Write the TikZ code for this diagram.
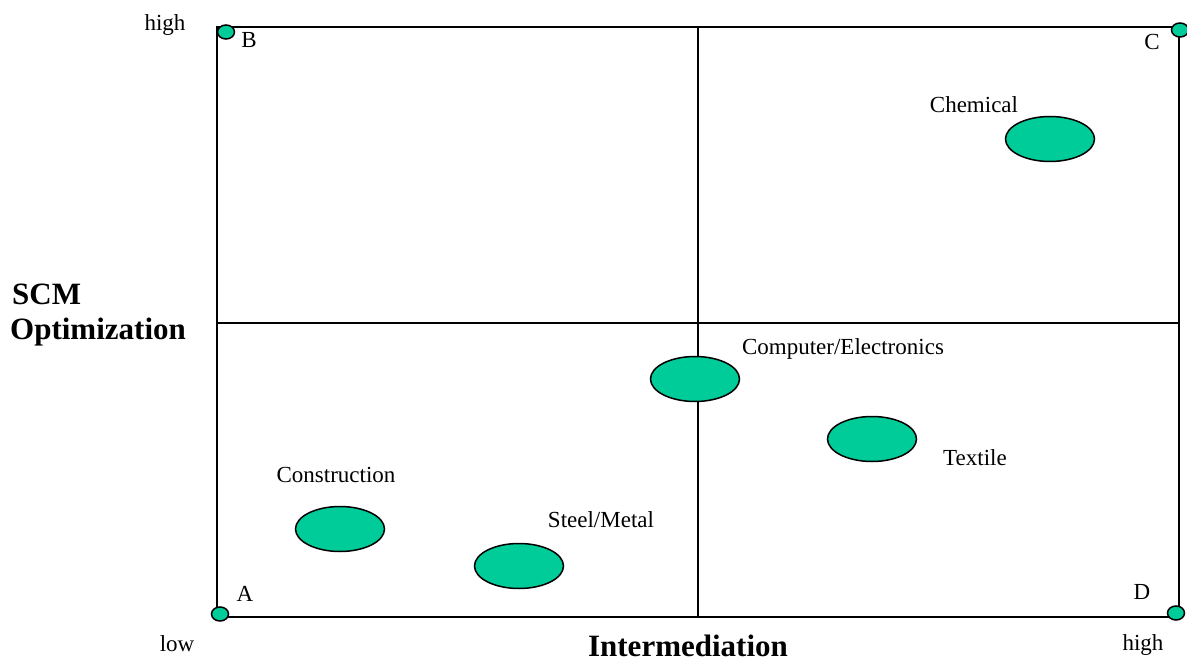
\documentclass[tikz,border=0pt]{standalone}
\usepackage{fontspec}
\setmainfont{Liberation Serif}
\usetikzlibrary{positioning}
\usetikzlibrary{shapes.geometric}
\definecolor{sector}{RGB}{0,204,153}

\begin{document}
\begin{tikzpicture}[
  x=1pt, y=-1pt,
  blob/.style={draw,ellipse,line width=1.5pt,fill=sector,minimum width=89pt,minimum height=45pt,inner sep=0pt},
  dot/.style={draw,ellipse,line width=1.5pt,fill=sector,minimum width=17pt,minimum height=14pt,inner sep=0pt},
  lbl/.style={inner sep=0pt,anchor=base,font=\fontsize{23}{27}\selectfont},
  axislbl/.style={inner sep=0pt,anchor=base west,font=\fontsize{31}{36}\selectfont\bfseries}
]
\useasboundingbox (0,0) rectangle (1187,663);

\coordinate (sw) at (217,617);
\coordinate (ne) at (1179,27);
\coordinate (top) at (698,27);
\coordinate (bot) at (698,617);
\coordinate (left) at (217,323);
\coordinate (right) at (1179,323);

\draw[line width=2pt] (sw) rectangle (ne);
\draw[line width=2pt] (top) -- (bot);
\draw[line width=2pt] (left) -- (right);

% corner markers
\node[dot] (a) at (220,614) {};
\node[dot] (b) at (226,32) {};
\node[dot] (c) at (1180,30) {};
\node[dot] (d) at (1176,613) {};

\node[lbl] (la) at (245,601) {A};
\node[lbl] (lb) at (249,48) {B};
\node[lbl] (lc) at (1152,50) {C};
\node[lbl] (ld) at (1142,599) {D};

\node[lbl] (hi1) at (165,31) {high};
\node[lbl] (lo) at (177,651) {low};
\node[lbl] (hi2) at (1143,650) {high};

% sectors
\node[blob] (chem) at (1050,139) {};
\node[blob] (comp) at (695,379) {};
\node[blob] (text) at (872,439) {};
\node[blob] (cons) at (340,529) {};
\node[blob] (steel) at (519,566) {};

\node[lbl] (lchem) at (974,113) {Chemical};
\node[lbl] (lcomp) at (843,355) {Computer/Electronics};
\node[lbl] (ltext) at (975,465) {Textile};
\node[lbl] (lcons) at (336,482) {Construction};
\node[lbl] (lsteel) at (601,527) {Steel/Metal};

% axes
\node[axislbl] (scm) at (12,305) {SCM};
\node[axislbl] (opt) at (10,340) {Optimization};
\node[axislbl,anchor=base] (inter) at (688,656) {Intermediation};

\end{tikzpicture}
\end{document}
